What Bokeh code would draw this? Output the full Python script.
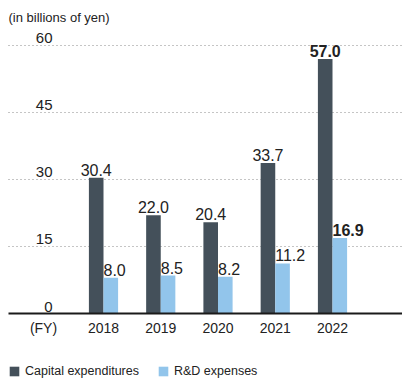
from bokeh.plotting import figure
from bokeh.models import ColumnDataSource, Range1d, Legend, LegendItem
from bokeh.core.properties import value
from bokeh.embed import file_html
from bokeh.resources import INLINE

# ---- data ----
years = ["2018", "2019", "2020", "2021", "2022"]
capex = [30.4, 22.0, 20.4, 33.7, 57.0]
rnd = [8.0, 8.5, 8.2, 11.2, 16.9]
y_ticks = [0, 15, 30, 45, 60]
grid_ticks = [15, 30, 45, 60]
series_names = ["Capital expenditures", "R&D expenses"]
title_text = "(in billions of yen)"
fy_label = "(FY)"
highlight = [False, False, False, False, True]

# ---- styles ----
DARK = "#44505a"
LIGHT = "#92c5eb"
TXT = "#222222"
FONT = value("Liberation Sans")

W, H = 402, 380
px_per_cat = 57.25
px_per_unit = 4.467
first_cat_px = 103.0     # frame x of first category centre
base_px = 313.0          # frame y (from top) of value 0

x_start = 1 - first_cat_px / px_per_cat
x_end = x_start + W / px_per_cat
y_end = base_px / px_per_unit
y_start = y_end - H / px_per_unit


def px_x(px):
    return x_start + px / px_per_cat


def px_y(py):
    return y_end - py / px_per_unit


bw = 14.6 / px_per_cat
xs = list(range(1, len(years) + 1))

src = ColumnDataSource(dict(
    x=xs,
    xd=[x - bw / 2 for x in xs],
    xl=[x + bw / 2 for x in xs],
    years=years,
    capex=capex,
    rnd=rnd,
    capex_t=[f"{v:.1f}" for v in capex],
    rnd_t=[f"{v:.1f}" for v in rnd],
    style=["bold" if h else "normal" for h in highlight],
))

p = figure(width=W, height=H, output_backend="svg", toolbar_location=None,
           x_range=Range1d(x_start, x_end), y_range=Range1d(y_start, y_end),
           x_axis_location=None, y_axis_location=None, min_border=0)
p.xgrid.visible = False
p.ygrid.visible = False
p.outline_line_color = None

# dotted grid lines
p.segment(x0=[px_x(8)] * len(grid_ticks), x1=[x_end] * len(grid_ticks),
          y0=grid_ticks, y1=grid_ticks, line_color="#8a8a8a",
          line_width=1.2, line_dash="1 3")

# bars
r1 = p.vbar(x="xd", top="capex", width=bw, bottom=0, source=src,
            fill_color=DARK, line_color=None)
r2 = p.vbar(x="xl", top="rnd", width=bw, bottom=0, source=src,
            fill_color=LIGHT, line_color=None)

# baseline
p.segment(x0=[px_x(8)], x1=[x_end], y0=[y_ticks[0]], y1=[y_ticks[0]],
          line_color="#1a1a1a", line_width=1.8)

# value labels
p.text(x="xd", y="capex", text="capex_t", source=src, text_align="center",
       text_baseline="bottom", y_offset=-2, text_font=FONT,
       text_font_size="16px", text_font_style="style", text_color=TXT)
p.text(x="x", y="rnd", text="rnd_t", source=src, text_align="left",
       text_baseline="bottom", y_offset=-2, x_offset=0, text_font=FONT,
       text_font_size="16px", text_font_style="style", text_color=TXT)

# y tick labels
p.text(x=[px_x(52)] * len(y_ticks), y=y_ticks, text=[str(t) for t in y_ticks],
       text_align="right", text_baseline="bottom", y_offset=-2,
       text_font=FONT, text_font_size="15px", text_color=TXT)

# x labels
lab_y = px_y(327)
p.text(x="x", y=lab_y, text="years", source=src, text_align="center",
       text_baseline="middle", text_font=FONT, text_font_size="14px",
       text_color=TXT)
p.text(x=[px_x(43)], y=[lab_y], text=[fy_label],
       text_align="center", text_baseline="middle", text_font=FONT,
       text_font_size="14px", text_color=TXT)

# unit title
p.text(x=[px_x(8)], y=[px_y(17)], text=[title_text],
       text_align="left", text_baseline="middle", text_font=FONT,
       text_font_size="13px", text_color=TXT)

legend = Legend(items=[LegendItem(label=series_names[0], renderers=[r1]),
                       LegendItem(label=series_names[1], renderers=[r2])],
                location=(8, 2), orientation="horizontal",
                glyph_width=12, glyph_height=12, label_height=12,
                label_standoff=5, spacing=18, padding=0, margin=0,
                label_text_font="Liberation Sans", label_text_font_size="12.5px",
                label_text_color=TXT, border_line_alpha=0,
                background_fill_alpha=0)
p.add_layout(legend)

open("out.html", "w").write(file_html(p, INLINE))
